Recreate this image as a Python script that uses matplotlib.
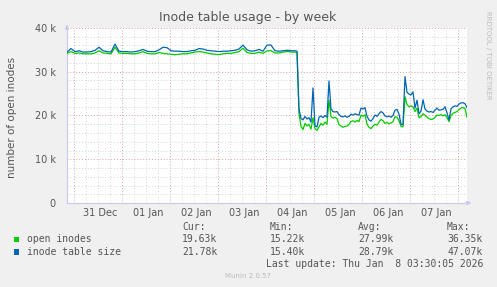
import matplotlib
matplotlib.use("Agg")
import matplotlib.pyplot as plt
from matplotlib.patches import Rectangle
import numpy as np

# hours since 30 Dec 20:30 (30 min per pixel): 2 h steps first, then 1 h steps
hours = np.concatenate([np.arange(0, 111, 2), np.arange(111, 201, 1)])

# inode table size (k)
table_size = [
    34.5, 35.3, 34.6, 34.8, 34.5, 34.5, 34.6, 34.9, 35.6, 34.8,
    34.6, 34.5, 36.3, 34.7, 34.6, 34.6, 34.5, 34.6, 34.8, 35.1,
    34.7, 34.6, 34.6, 35.0, 35.6, 35.5, 34.8, 34.7, 34.7, 34.6,
    34.6, 34.8, 34.9, 35.3, 35.2, 34.9, 34.8, 34.7, 34.6, 34.7,
    34.7, 34.8, 34.9, 35.2, 36.1, 35.0, 34.7, 34.8, 35.1, 34.7,
    36.1, 36.1, 34.8, 34.7, 34.8, 34.9,
    34.9, 34.8, 34.8, 34.8, 34.7, 21.5, 19.3, 19.0, 19.8, 19.2,
    19.5, 18.5, 26.3, 17.6, 17.4, 19.6, 19.9, 19.5, 20.0, 19.6,
    27.9, 21.5, 20.9, 20.8, 20.9, 20.2, 19.8, 19.7, 19.9, 19.6,
    19.8, 20.3, 20.1, 20.4, 20.2, 20.1, 21.7, 21.5, 21.8, 19.8,
    19.0, 18.7, 19.3, 20.1, 19.8, 20.4, 20.9, 20.6, 19.9, 19.7,
    19.9, 19.6, 20.0, 21.2, 21.4, 20.3, 18.0, 17.9, 28.9, 25.3,
    24.9, 24.7, 25.4, 21.7, 23.5, 20.4, 21.0, 23.6, 21.5, 21.0,
    20.8, 20.9, 20.7, 21.2, 21.7, 21.2, 21.3, 21.4, 22.0, 20.6,
    19.0, 21.5, 22.0, 22.2, 22.1, 22.6, 22.9, 22.9, 22.7, 21.8,
]

# open inodes (k)
open_inodes = [
    34.2, 34.6, 34.2, 34.3, 34.1, 34.1, 34.1, 34.3, 34.8, 34.3,
    34.2, 34.1, 35.6, 34.3, 34.2, 34.2, 34.1, 34.1, 34.3, 34.6,
    34.2, 34.1, 34.1, 34.4, 34.2, 34.1, 34.0, 33.9, 34.0, 34.1,
    34.1, 34.3, 34.5, 34.6, 34.5, 34.3, 34.1, 34.0, 33.9, 34.1,
    34.2, 34.2, 34.4, 34.6, 35.4, 34.4, 34.2, 34.2, 34.5, 34.2,
    34.8, 34.8, 34.3, 34.3, 34.5, 34.6,
    34.6, 34.5, 34.5, 34.5, 34.4, 20.5, 17.5, 16.8, 18.2, 17.6,
    18.0, 16.9, 19.5, 17.0, 16.6, 17.4, 18.2, 17.8, 18.5, 18.0,
    23.5, 19.8, 19.4, 19.6, 19.3, 17.9, 17.6, 17.3, 17.5, 17.6,
    18.0, 18.6, 18.8, 18.5, 18.9, 18.6, 20.1, 19.8, 20.2, 18.0,
    17.3, 17.0, 17.6, 18.0, 17.8, 18.5, 19.1, 18.8, 18.2, 18.4,
    18.1, 18.3, 18.6, 19.7, 19.6, 18.8, 17.5, 17.4, 24.3, 22.5,
    22.0, 22.2, 22.0, 20.9, 21.7, 19.5, 19.7, 20.4, 20.1, 19.6,
    19.3, 19.1, 19.2, 19.6, 20.1, 20.0, 20.2, 19.9, 20.2, 19.5,
    18.6, 20.0, 20.5, 20.7, 20.9, 21.4, 21.7, 21.8, 21.6, 19.6,
]

day_labels = ["31 Dec", "01 Jan", "02 Jan", "03 Jan", "04 Jan", "05 Jan", "06 Jan", "07 Jan"]
first_midnight = 3.5  # 31 Dec 00:00 in hours

legend_rows = [
    ("open inodes", "#00CC00", ["19.63k", "15.22k", "27.99k", "36.35k"]),
    ("inode table size", "#0066B3", ["21.78k", "15.40k", "28.79k", "47.07k"]),
]
headers = ["Cur:", "Min:", "Avg:", "Max:"]

W, H = 497, 287
fig = plt.figure(figsize=(W / 100, H / 100), dpi=100, facecolor="#F0F0F0")
ax = fig.add_axes([67 / W, 1 - 203 / H, 400 / W, 175 / H], facecolor="white")

ax.plot(hours, np.array(open_inodes) * 1000, color="#00CC00", lw=0.9, zorder=3)
ax.plot(hours, np.array(table_size) * 1000, color="#0066B3", lw=0.9, zorder=4)

ax.set_xlim(0, 200)
ax.set_ylim(0, 40000)

midnights = first_midnight + 24 * np.arange(9)
ax.set_xticks(midnights[midnights <= 200])
ax.set_xticks(np.arange(first_midnight, 200, 6), minor=True)
ax.set_yticks(np.arange(0, 40001, 10000))
ax.set_yticks(np.arange(0, 40001, 2000), minor=True)
ax.set_yticklabels(["0", "10 k", "20 k", "30 k", "40 k"])
ax.set_xticklabels([])

dots = (0, (1, 2))
ax.grid(which="minor", color="#D4D4D4", lw=0.7, linestyle=dots, zorder=1)
ax.grid(which="major", color="#E0A0A0", lw=0.7, linestyle=dots, zorder=2)
ax.tick_params(which="both", length=0, labelsize=7, labelcolor="#555555", pad=8)

for i, lab in enumerate(day_labels):
    ax.text(first_midnight + 24 * i + 13, -0.055, lab, transform=ax.get_xaxis_transform(),
            ha="center", va="center", fontsize=7, color="#555555")

axis_col = "#C8C8F0"
for s in ["top", "right"]:
    ax.spines[s].set_visible(False)
for s in ["left", "bottom"]:
    ax.spines[s].set_color(axis_col)
    ax.spines[s].set_linewidth(0.8)
ax.annotate("", xy=(1.018, 0), xytext=(0.99, 0), xycoords="axes fraction",
            arrowprops=dict(arrowstyle="-|>", color=axis_col, lw=0.8, mutation_scale=6),
            annotation_clip=False)
ax.annotate("", xy=(0, 1.035), xytext=(0, 0.99), xycoords="axes fraction",
            arrowprops=dict(arrowstyle="-|>", color=axis_col, lw=0.8, mutation_scale=6),
            annotation_clip=False)

fig.text(248 / W, 1 - 18 / H, "Inode table usage - by week", ha="center", va="center",
         fontsize=9, color="#555555")
fig.text(12 / W, 1 - 117 / H, "number of open inodes", rotation=90, ha="center",
         va="center", fontsize=7.5, color="#555555")
fig.text(488 / W, 1 - 55 / H, "RRDTOOL / TOBI OETIKER", rotation=270, ha="center",
         va="center", fontsize=5, color="#BBBBBB")

mono = "DejaVu Sans Mono"
col_x = [182, 270, 358, 447]
for x, h in zip(col_x, headers):
    fig.text(x / W, 1 - 227 / H, h, ha="left", va="center", fontsize=7,
             family=mono, color="#555555")
for r, (name, color, vals) in enumerate(legend_rows):
    y = 239.5 + 12.5 * r
    fig.patches.append(Rectangle((14 / W, 1 - (y + 2.7) / H), 5.3 / W, 5.3 / H,
                                 transform=fig.transFigure, facecolor=color,
                                 edgecolor="none"))
    fig.text(27 / W, 1 - y / H, name, ha="left", va="center", fontsize=7,
             family=mono, color="#555555")
    for x, v in zip(col_x, vals):
        fig.text(x / W, 1 - y / H, v, ha="left", va="center", fontsize=7,
                 family=mono, color="#555555")
fig.text(483 / W, 1 - 264 / H, "Last update: Thu Jan  8 03:30:05 2026", ha="right",
         va="center", fontsize=7, family=mono, color="#555555")
fig.text(248 / W, 1 - 276 / H, "Munin 2.0.57", ha="center", va="center",
         fontsize=5, color="#BBBBBB")

fig.savefig("out.png", dpi=100, facecolor=fig.get_facecolor())
